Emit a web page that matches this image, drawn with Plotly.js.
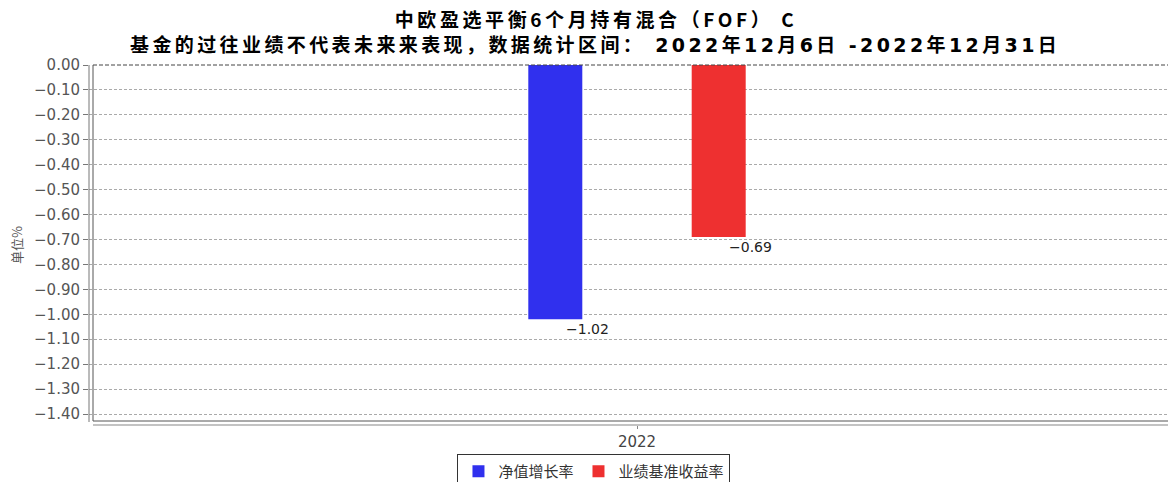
<!DOCTYPE html>
<html><head><meta charset="utf-8">
<script src="https://cdn.plot.ly/plotly-3.0.1.min.js"></script>
<style>html,body{margin:0;padding:0;background:#fff}#chart{width:1168px;height:482px}</style>
</head><body><div id="chart"></div>
<script>
const categories = ['2022'];
const seriesNames = ['净值增长率', '业绩基准收益率'];
const navGrowth = [-1.02];
const benchmarkReturn = [-0.69];
const titleLine1 = '中欧盈选平衡6个月持有混合（FOF） C';
const titleLine2 = '基金的过往业绩不代表未来来表现，数据统计区间： 2022年12月6日 -2022年12月31日';
const yAxisTitle = '单位%';

const CJK = '"Noto Sans CJK SC", "Noto Sans", sans-serif';
const NUM = '"DejaVu Sans", "Noto Sans CJK SC", sans-serif';
const colors = ['rgb(48,48,238)', 'rgb(238,48,48)'];
const barWidth = 0.054;
const offsets = [-0.1087, 0.0547];
const seriesValues = [navGrowth, benchmarkReturn];

const traces = seriesValues.map((vals, i) => ({
  type: 'bar', x: categories, y: vals, name: seriesNames[i],
  width: barWidth, offset: offsets[i],
  marker: {color: colors[i], line: {width: 0}},
  hoverinfo: 'x+y+name'
}));

const annotations = [];
seriesValues.forEach((vals, i) => {
  vals.forEach((v, k) => {
    annotations.push({
      x: k + offsets[i] + barWidth, y: v, xref: 'x', yref: 'y',
      text: v.toFixed(2).replace('-', '−'), showarrow: false,
      xanchor: 'center', yanchor: 'middle', xshift: 5, yshift: -10,
      font: {family: NUM, size: 14, color: '#222'}
    });
  });
});
annotations.push({
  text: '<span style="letter-spacing:3.4px">' + titleLine2 + '</span>',
  xref: 'paper', yref: 'paper', x: 0.469, y: 1.0556,
  xanchor: 'center', yanchor: 'middle', showarrow: false,
  font: {family: NUM, size: 19, color: '#000', weight: 'bold'}
});

const px = v => (v - 89) / 1079;
const py = v => (425 - v) / 360;
const shapes = [
  {type: 'line', xref: 'paper', yref: 'paper', x0: px(93), x1: px(93), y0: py(421), y1: 1, line: {color: '#555', width: 1}},
  {type: 'line', xref: 'paper', yref: 'paper', x0: 0, x1: 0, y0: py(422), y1: 1, line: {color: '#777', width: 1}},
  {type: 'line', xref: 'paper', yref: 'paper', x0: px(93), x1: 1, y0: py(421), y1: py(421), line: {color: '#555', width: 1}},
  {type: 'line', xref: 'paper', yref: 'paper', x0: px(93), x1: 1, y0: 0, y1: 0, line: {color: '#888', width: 1.2}},
  {type: 'line', xref: 'paper', yref: 'paper', x0: px(93), x1: 1, y0: 1, y1: 1, line: {color: '#444', width: 1, dash: '4px,2px'}}
];

const layout = {
  width: 1168, height: 482,
  margin: {l: 89, r: 0, t: 65, b: 57, autoexpand: false},
  paper_bgcolor: '#fff', plot_bgcolor: '#fff',
  title: {text: '<span style="letter-spacing:3.6px">' + titleLine1 + '</span>',
          x: 596 / 1168, xanchor: 'center', xref: 'container',
          y: 1 - 20 / 482, yanchor: 'middle', yref: 'container',
          font: {family: CJK, size: 19, color: '#000', weight: 'bold'}},
  barmode: 'group',
  showlegend: true,
  legend: {orientation: 'h', x: 0.468, xanchor: 'center', y: py(454), yanchor: 'top',
           bgcolor: '#fff', bordercolor: '#333', borderwidth: 1,
           font: {family: CJK, size: 15, color: '#333'}, itemwidth: 30},
  xaxis: {type: 'category', range: [-0.548, 0.531], showgrid: false, zeroline: false,
          showline: false, ticks: 'outside', ticklen: 3, tickcolor: '#888',
          tickfont: {family: NUM, size: 15, color: '#444'}, fixedrange: true, automargin: false},
  yaxis: {range: [-1.444, 0], dtick: 0.1, tick0: 0, tickformat: '.2f',
          showgrid: true, gridcolor: '#aaa', gridwidth: 1, griddash: '3px,2px',
          zeroline: false, showline: false, ticks: 'outside', ticklen: 5, tickcolor: '#777',
          tickfont: {family: NUM, size: 15, color: '#555'},
          title: {text: yAxisTitle, standoff: 8, font: {family: CJK, size: 13, color: '#555'}},
          fixedrange: true, automargin: false},
  shapes: shapes,
  annotations: annotations
};

Plotly.newPlot('chart', traces, layout, {displayModeBar: false, staticPlot: true});
</script></body></html>
